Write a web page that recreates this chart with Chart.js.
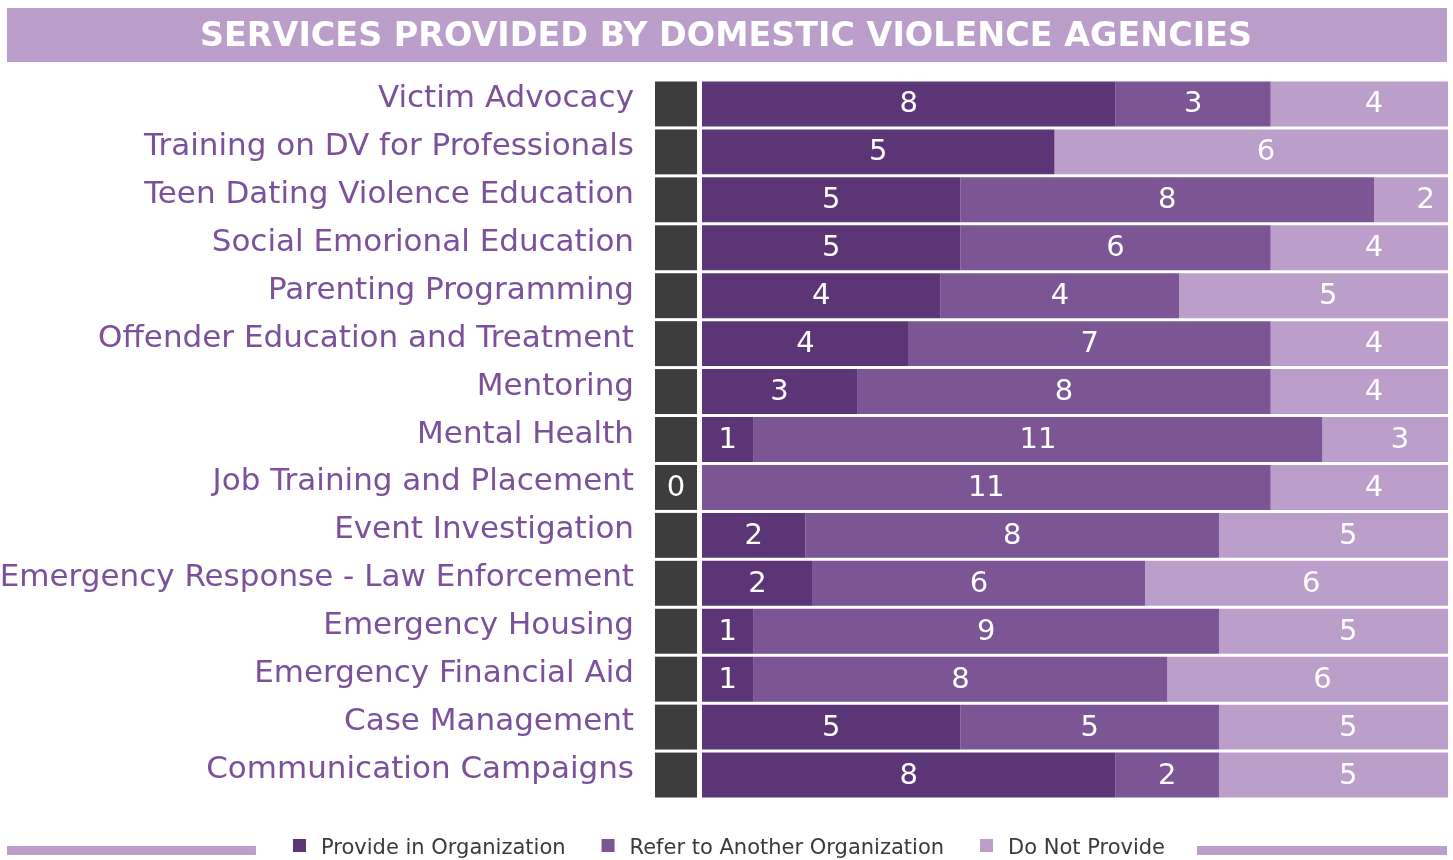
<!DOCTYPE html>
<html>
<head>
<meta charset="utf-8">
<script src="https://cdn.jsdelivr.net/npm/chart.js@4.4.1/dist/chart.umd.min.js"></script>
<style>
  body { margin: 0; background: #ffffff; }
  canvas { display: block; }
</style>
</head>
<body>
<canvas id="services-chart" width="1453" height="860"></canvas>
<script>
// chart data, top row first
var services = [
    'Victim Advocacy',
    'Training on DV for Professionals',
    'Teen Dating Violence Education',
    'Social Emorional Education',
    'Parenting Programming',
    'Offender Education and Treatment',
    'Mentoring',
    'Mental Health',
    'Job Training and Placement',
    'Event Investigation',
    'Emergency Response - Law Enforcement',
    'Emergency Housing',
    'Emergency Financial Aid',
    'Case Management',
    'Communication Campaigns'
];
var provideInOrg = [8, 5, 5, 5, 4, 4, 3, 1, 0, 2, 2, 1, 1, 5, 8];
var referToOther = [3, 0, 8, 6, 4, 7, 8, 11, 11, 8, 6, 9, 8, 5, 2];
var doNotProvide = [4, 6, 2, 4, 5, 4, 4, 3, 4, 5, 6, 5, 6, 5, 5];

var chartTitle = 'SERVICES PROVIDED BY DOMESTIC VIOLENCE AGENCIES';
var seriesNames = ['Provide in Organization', 'Refer to Another Organization', 'Do Not Provide'];
var seriesColors = ['#5c3577', '#7b5594', '#bc9ecb'];

var FONT = '"DejaVu Sans", "Noto Sans", sans-serif';

// each bar shows the share of its row total
function shares(values) {
    return values.map(function (v, i) {
        var total = provideInOrg[i] + referToOther[i] + doNotProvide[i];
        return v / total * 100;
    });
}

var counts = [provideInOrg, referToOther, doNotProvide];

var decorations = {
    id: 'decorations',
    beforeDraw: function (chart) {
        var ctx = chart.ctx;
        ctx.save();
        // title banner
        ctx.fillStyle = '#bc9ecb';
        ctx.fillRect(7, 8, 1440, 54);
        var size = 30;
        ctx.font = 'bold ' + size + 'px ' + FONT;
        size = size * 1053 / ctx.measureText(chartTitle).width;
        ctx.font = 'bold ' + size.toFixed(1) + 'px ' + FONT;
        ctx.fillStyle = '#ffffff';
        ctx.textAlign = 'center';
        ctx.textBaseline = 'middle';
        ctx.fillText(chartTitle, 726, 37);
        ctx.restore();
    },
    afterDraw: function (chart) {
        var ctx = chart.ctx;
        var area = chart.chartArea;
        ctx.save();
        ctx.textAlign = 'center';
        ctx.textBaseline = 'middle';
        ctx.font = '29px ' + FONT;

        // dark boxes left of each bar, showing a zero "provide" count
        var first = chart.getDatasetMeta(0);
        first.data.forEach(function (bar, i) {
            var h = bar.height;
            ctx.fillStyle = '#3d3d3d';
            ctx.fillRect(area.left - 47, bar.y - h / 2, 42, h);
            if (provideInOrg[i] === 0) {
                ctx.fillStyle = '#ffffff';
                ctx.fillText('0', area.left - 26, bar.y + 1);
            }
        });

        // value labels
        chart.data.datasets.forEach(function (ds, d) {
            chart.getDatasetMeta(d).data.forEach(function (bar, i) {
                var v = counts[d][i];
                if (!v) return;
                ctx.fillStyle = '#ffffff';
                ctx.fillText(String(v), bar.x - (bar.x - bar.base) / 2, bar.y + 1);
            });
        });

        // legend with side rules
        ctx.font = '21px ' + FONT;
        ctx.textAlign = 'left';
        var box = 13, gap = 15, spacing = 36;
        var widths = seriesNames.map(function (n) { return ctx.measureText(n).width; });
        var total = 0;
        widths.forEach(function (w) { total += box + gap + w; });
        total += spacing * (widths.length - 1);
        var x = 729 - total / 2;
        var y = 848;
        var startX = x;
        seriesNames.forEach(function (name, k) {
            ctx.fillStyle = seriesColors[k];
            ctx.fillRect(x, y - 9, box, box);
            ctx.fillStyle = '#3a3a3a';
            ctx.fillText(name, x + box + gap, y + 1);
            x += box + gap + widths[k] + spacing;
        });
        var endX = x - spacing;
        ctx.fillStyle = '#bc9ecb';
        ctx.fillRect(7, 846, startX - 37 - 7, 9);
        ctx.fillRect(endX + 32, 846, 1447 - endX - 32, 9);
        ctx.restore();
    }
};

var ctx = document.getElementById('services-chart').getContext('2d');
new Chart(ctx, {
    type: 'bar',
    data: {
        labels: services,
        datasets: [{
            label: seriesNames[0],
            data: shares(provideInOrg),
            backgroundColor: seriesColors[0]
        }, {
            label: seriesNames[1],
            data: shares(referToOther),
            backgroundColor: seriesColors[1]
        }, {
            label: seriesNames[2],
            data: shares(doNotProvide),
            backgroundColor: seriesColors[2]
        }]
    },
    options: {
        indexAxis: 'y',
        responsive: false,
        animation: false,
        barPercentage: 1,
        categoryPercentage: 0.9375,
        layout: {
            padding: { top: 80, bottom: 61, left: 0, right: 5 }
        },
        plugins: {
            legend: { display: false },
            tooltip: { enabled: false }
        },
        scales: {
            x: {
                stacked: true,
                display: false,
                min: 0,
                max: 96.2
            },
            y: {
                stacked: true,
                grid: { display: false, drawTicks: false },
                border: { display: false },
                ticks: {
                    color: '#7b519b',
                    font: { family: FONT, size: 31 },
                    padding: 68,
                    labelOffset: -5
                },
                afterFit: function (scale) {
                    scale.width = 702;
                    scale.paddingTop = 0;
                    scale.paddingBottom = 0;
                }
            }
        }
    },
    plugins: [decorations]
});
</script>
</body>
</html>
